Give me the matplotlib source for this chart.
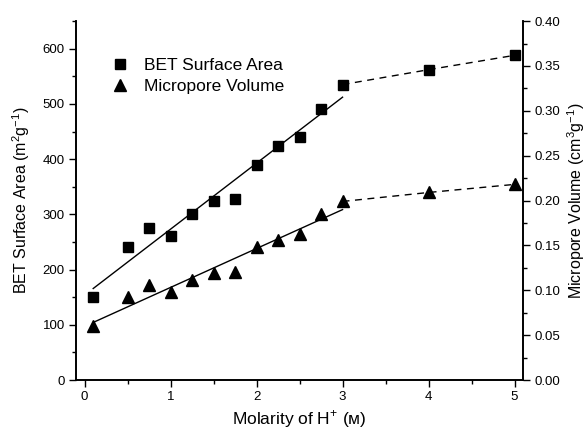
import matplotlib
matplotlib.use("Agg")
import matplotlib.pyplot as plt
import numpy as np
from matplotlib.ticker import MultipleLocator

plt.rcParams['font.family'] = ['Liberation Sans', 'DejaVu Sans']
plt.rcParams['mathtext.fontset'] = 'custom'
plt.rcParams['mathtext.rm'] = 'Liberation Sans'

molarity = [0.1, 0.5, 0.75, 1.0, 1.25, 1.5, 1.75, 2.0, 2.25, 2.5, 2.75, 3.0, 4.0, 5.0]
bet_area = [150, 240, 276, 260, 300, 325, 328, 390, 423, 440, 490, 535, 562, 588]
micro_vol = [0.060, 0.092, 0.106, 0.098, 0.111, 0.119, 0.120, 0.148, 0.156, 0.163, 0.185, 0.199, 0.209, 0.218]

x = np.array(molarity)
bet = np.array(bet_area)
vol = np.array(micro_vol)
low = x <= 3.0
high = x >= 3.0

fig = plt.figure(figsize=(5.86, 4.34), dpi=100)
ax = fig.add_axes([0.1297, 0.1244, 0.763, 0.827])
ax2 = ax.twinx()

# linear fits on the low-molarity region
p_bet = np.polyfit(x[low], bet[low], 1)
p_vol = np.polyfit(x[low], vol[low], 1)
xf = np.array([x[low].min(), x[low].max()])

ax.plot(xf, np.polyval(p_bet, xf), color='black', lw=1)
ax.plot(x[high], bet[high], color='black', lw=1, ls=(0, (5, 4)))
ax.plot(x, bet, 's', color='black', ms=7, label='BET Surface Area')

ax2.plot(xf, np.polyval(p_vol, xf), color='black', lw=1)
ax2.plot(x[high], vol[high], color='black', lw=1, ls=(0, (5, 4)))
ax2.plot(x, vol, '^', color='black', ms=8.5, label='Micropore Volume')

ax.set_xlim(-0.1, 5.1)
ax.set_ylim(0, 650)
ax2.set_ylim(0, 0.40)

ax.xaxis.set_major_locator(MultipleLocator(1))
ax.xaxis.set_minor_locator(MultipleLocator(0.5))
ax.yaxis.set_major_locator(MultipleLocator(100))
ax.yaxis.set_minor_locator(MultipleLocator(50))
ax2.yaxis.set_major_locator(MultipleLocator(0.05))
ax2.yaxis.set_minor_locator(MultipleLocator(0.025))
ax2.yaxis.set_major_formatter(matplotlib.ticker.FormatStrFormatter('%.2f'))

for a in (ax, ax2):
    a.spines['top'].set_visible(False)
    a.tick_params(which='major', direction='out', length=5, width=1, labelsize=9.5, pad=3)
    a.tick_params(which='minor', direction='out', length=3, width=1)
    for s in a.spines.values():
        s.set_linewidth(1.2)

ax.set_xlabel('Molarity of H$^{+}$ (ᴍ)', fontsize=12.5, labelpad=4)
ax.set_ylabel('BET Surface Area (m$^{2}$g$^{-1}$)', fontsize=11.5, labelpad=8)
ax2.set_ylabel('Micropore Volume (cm$^{3}$g$^{-1}$)', fontsize=11.5, labelpad=4)

h1, l1 = ax.get_legend_handles_labels()
h2, l2 = ax2.get_legend_handles_labels()
ax.legend(h1 + h2, l1 + l2, loc='upper left', bbox_to_anchor=(0.04, 0.94),
          frameon=False, fontsize=12.5, handletextpad=0.8, labelspacing=0.3,
          handlelength=1.2)

fig.savefig('out.png', dpi=100)
